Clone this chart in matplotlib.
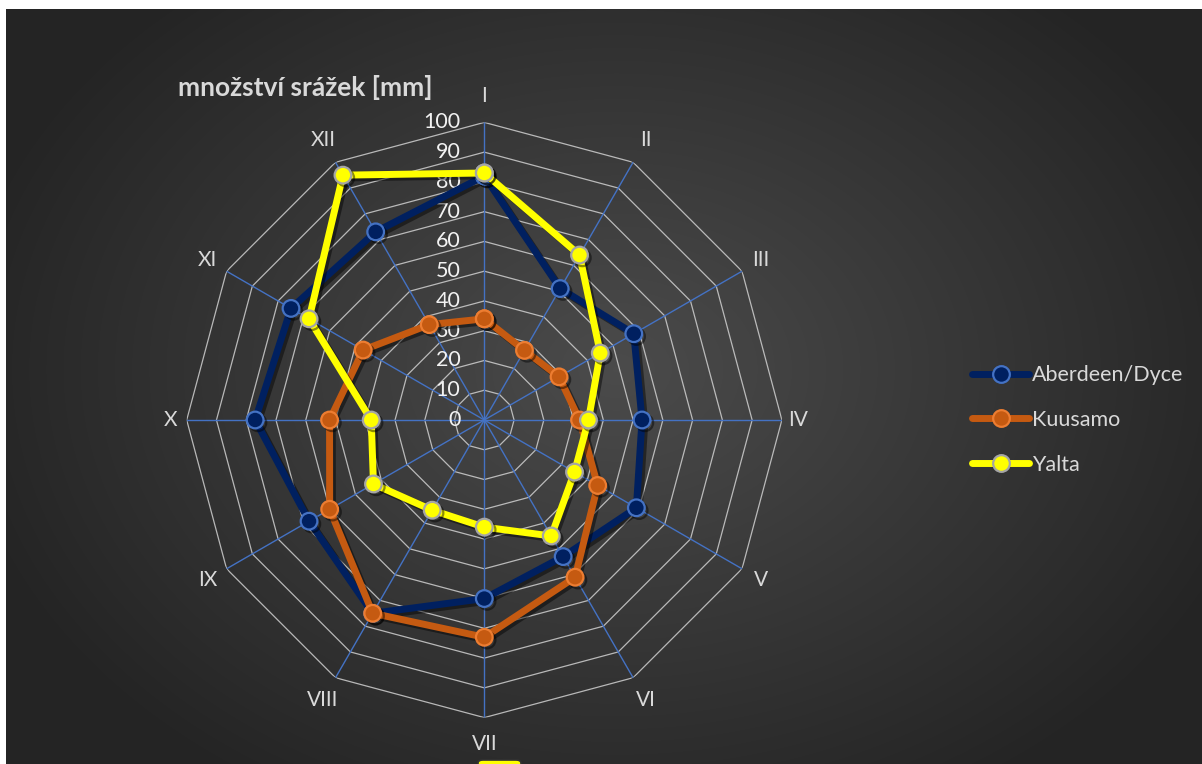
import numpy as np
import matplotlib
matplotlib.use("Agg")
import matplotlib.pyplot as plt
import matplotlib.patheffects as pe
from matplotlib.patches import FancyBboxPatch

# data (precipitation, mm)
months = ["I", "II", "III", "IV", "V", "VI", "VII", "VIII", "IX", "X", "XI", "XII"]
aberdeen = [82, 51, 58, 53, 59, 53, 60, 75, 68, 77, 75, 73]
kuusamo = [34, 27, 29, 32, 44, 61, 73, 75, 60, 52, 47, 37]
yalta = [83, 64, 45, 35, 35, 45, 36, 35, 43, 38, 68, 95]
series_names = ["Aberdeen/Dyce", "Kuusamo", "Yalta"]
radial_ticks = [0, 10, 20, 30, 40, 50, 60, 70, 80, 90, 100]

plt.rcParams['font.family'] = ['Lato', 'DejaVu Sans']

W, H = 1202, 764
fig = plt.figure(figsize=(W / 100, H / 100), dpi=100)
fig.patch.set_facecolor("white")

# dark radial gradient background of the chart area
bg = fig.add_axes([6 / W, 0, (W - 6) / W, (H - 9) / H])
yy, xx = np.mgrid[0:755, 0:1196]
d = np.sqrt(((xx - 610) / 700.0) ** 2 + ((yy - 360) / 520.0) ** 2)
shade = np.clip(0.295 - 0.16 * d, 0.145, 0.295)
bg.imshow(np.dstack([shade, shade, shade]), aspect="auto", extent=[0, 1, 0, 1])
bg.set_axis_off()

# polar axes for the radar
cx, cy, R = 484.3, 420.0, 297.6
ax = fig.add_axes([(cx - R) / W, (H - cy - R) / H, 2 * R / W, 2 * R / H], projection="polar")
ax.set_facecolor("none")
ax.set_theta_offset(np.pi / 2)
ax.set_theta_direction(-1)
ax.set_ylim(0, 100)
ax.set_xticks([])
ax.set_yticks([])
ax.grid(False)
ax.spines["polar"].set_visible(False)

theta = np.linspace(0, 2 * np.pi, len(months), endpoint=False)
theta_c = np.append(theta, theta[0])

# polygon rings
for lvl in radial_ticks[1:]:
    ax.plot(theta_c, [lvl] * len(theta_c), color="#d0d0d0", lw=0.9, alpha=0.85, zorder=1)
# spokes
for t in theta:
    ax.plot([t, t], [0, 100], color="#4472C4", lw=1.0, zorder=2)

# radial tick labels
for v in radial_ticks:
    ax.annotate(str(v), xy=(0, v), xytext=(-24, 0), textcoords="offset pixels",
                ha="right", va="center", color="#f2f2f2", fontsize=15.5, zorder=3,
                annotation_clip=False)

# category labels
for t, lab in zip(theta, months):
    r = 105.5 + 3.5 * abs(np.cos(t))
    ax.text(t, r, lab, ha="center", va="center", color="#d9d9d9", fontsize=15)

styles = [
    dict(color="#002060", mfc="#002060", mec="#4472C4"),
    dict(color="#C55A11", mfc="#C55A11", mec="#ED7D31"),
    dict(color="#FFFF00", mfc="#FFFF00", mec="#A5A5A5"),
]
shadow = [pe.SimpleLineShadow(offset=(2, -2), shadow_color="black", alpha=0.45), pe.Normal()]
handles = []
for vals, name, st in zip([aberdeen, kuusamo, yalta], series_names, styles):
    v = np.append(vals, vals[0])
    h, = ax.plot(theta_c, v, color=st["color"], lw=5, marker="o", ms=12,
                 mfc=st["mfc"], mec=st["mec"], mew=1.6, zorder=5,
                 path_effects=shadow, label=name, solid_capstyle="round")
    handles.append(h)

# title
fig.text(178 / W, 1 - 87 / H, "množství srážek [mm]", ha="left", va="center",
         color="#d9d9d9", fontsize=19, fontweight="bold")

leg = fig.legend(handles=handles, loc="center left", bbox_to_anchor=(972 / W, 1 - 420 / H),
                 frameon=False, fontsize=15.5, labelcolor="#d9d9d9", handlelength=2.65,
                 handletextpad=0.15, labelspacing=1.15, borderpad=0, borderaxespad=0)
for lh in leg.legend_handles:
    lh.set_path_effects([])

# small clipped yellow marker box at the bottom edge
fig.patches.append(FancyBboxPatch((478 / W, -4 / H), 43 / W, 8 / H,
                                  boxstyle="round,pad=0,rounding_size=0.004",
                                  transform=fig.transFigure, facecolor="#FFFF00",
                                  edgecolor="#333333", lw=1.2))

fig.savefig("out.png", dpi=100)
